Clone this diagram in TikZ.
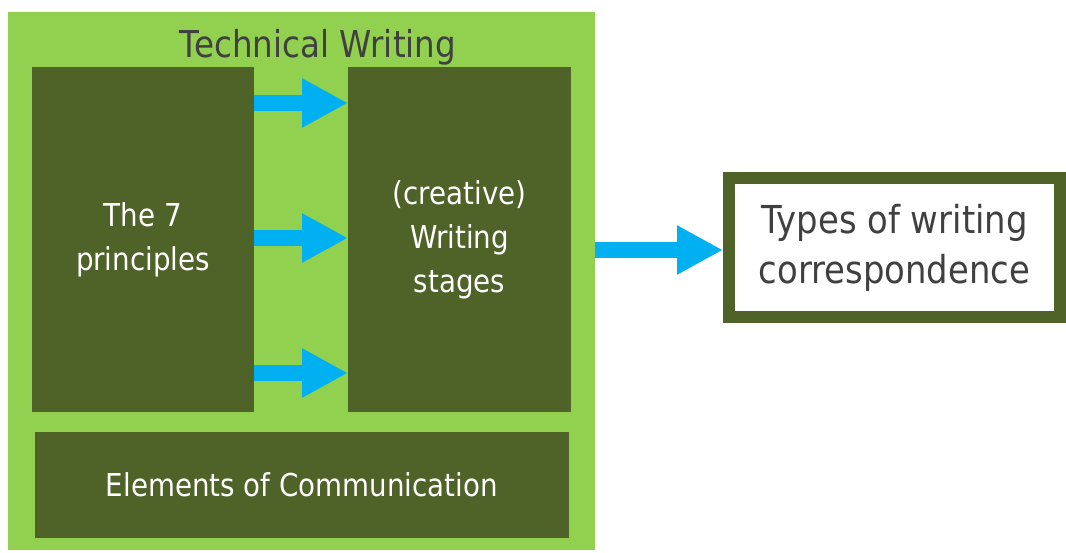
\documentclass[tikz,border=0pt]{standalone}
\usepackage{fontspec}
\setmainfont{DejaVu Sans}[FakeStretch=0.88]
\usetikzlibrary{arrows.meta}
\definecolor{lgreen}{HTML}{92D050}
\definecolor{dgreen}{HTML}{4F6228}
\definecolor{ablue}{HTML}{00B0F0}
\definecolor{tgray}{HTML}{404040}
\tikzset{
  inbox/.style={fill=dgreen, draw=none, outer sep=0pt, text=white, align=center, font=\fontsize{31.5}{44}\selectfont},
  flow/.style={draw=ablue, line width=16pt, -{Triangle[length=46pt, width=46pt]}},
}
\begin{document}
\begin{tikzpicture}[x=1pt,y=-1pt]
\useasboundingbox (0,0) rectangle (1066,552);
\node[fill=lgreen, outer sep=0pt, minimum width=587pt, minimum height=538pt, anchor=north west] (outer) at (8,12) {};
\node[text=tgray, font=\fontsize{37}{40}\selectfont] (title) at (318,47) {Technical Writing};
\node[inbox, minimum width=222pt, minimum height=345pt, anchor=north west] (p7) at (32,67) {The 7\\principles};
\node[inbox, minimum width=223pt, minimum height=345pt, anchor=north west] (ws) at (348,67) {(creative)\\Writing\\stages};
\node[inbox, minimum width=534pt, minimum height=106pt, anchor=north west] (el) at (35,432) {Elements of Communication};
\node[draw=dgreen, line width=12pt, fill=white, minimum width=331pt, minimum height=139pt, anchor=north west, text=tgray, align=center, font=\fontsize{38.5}{50}\selectfont] (types) at (723,172) {Types of writing\\correspondence};
\foreach \yy in {103,238,373}{
  \draw[flow] (p7.east |- 0,\yy) -- (ws.west |- 0,\yy);
}
\draw[flow] (outer.east |- 0,250) -- (types.west |- 0,250);
\end{tikzpicture}
\end{document}
